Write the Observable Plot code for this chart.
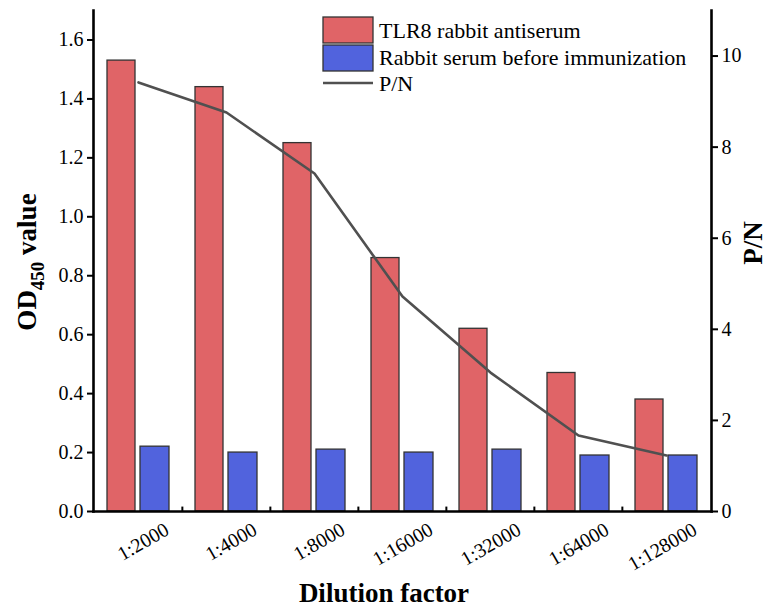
<!DOCTYPE html>
<html><head><meta charset="utf-8">
<script src="https://cdn.jsdelivr.net/npm/d3@7"></script>
<script src="https://cdn.jsdelivr.net/npm/@observablehq/plot@0.6"></script>
<style>body{margin:0;background:#fff}</style>
</head><body><div id="chart"></div>
<script>
const categories = ["1:2000","1:4000","1:8000","1:16000","1:32000","1:64000","1:128000"];
const tlr8 = [1.53,1.44,1.25,0.86,0.62,0.47,0.38];
const preImmune = [0.22,0.20,0.21,0.20,0.21,0.19,0.19];
const pn = [9.42,8.76,7.42,4.72,3.05,1.67,1.23];
const leftTicks = [0,0.2,0.4,0.6,0.8,1.0,1.2,1.4,1.6];
const rightTicks = [0,2,4,6,8,10];
const legendLabels = ["TLR8 rabbit antiserum","Rabbit serum before immunization","P/N"];

const yMax = 1.7, pnMax = 11;
const toLeft = v => v * yMax / pnMax;
const data = categories.map((c,i)=>({cat:c, a:tlr8[i], b:preImmune[i], pn:pn[i]}));
const red = "#e06467", blue = "#5163dd", lineC = "#505050";
const font = "'Liberation Serif','Times New Roman',serif";
const bw = (769 - 93 - 58) / categories.length;

const plot = Plot.plot({
  width: 769, height: 609,
  marginLeft: 93, marginRight: 58, marginTop: 10, marginBottom: 98,
  style: {fontFamily: font, fontSize: "20px", color: "#000", background: "#fff"},
  x: {domain: categories, padding: 0, axis: null},
  y: {domain: [0, yMax], axis: null},
  marks: [
    Plot.barY(data, {x: "cat", y: "a", fill: red, stroke: "#333", strokeWidth: 1.3, insetLeft: 13, insetRight: 47}),
    Plot.barY(data, {x: "cat", y: "b", fill: blue, stroke: "#333", strokeWidth: 1.3, insetLeft: 46, insetRight: 13}),
    Plot.lineY(data, {x: "cat", y: d => toLeft(d.pn), stroke: lineC, strokeWidth: 2.6}),
    Plot.frame({anchor: "left", stroke: "#000", strokeWidth: 2.6}),
    Plot.frame({anchor: "right", stroke: "#000", strokeWidth: 2.6}),
    Plot.frame({anchor: "bottom", stroke: "#000", strokeWidth: 2.6}),
    Plot.axisY(leftTicks, {anchor: "left", tickSize: 6, tickPadding: 4, strokeWidth: 2, tickFormat: d3.format(".1f"), label: null, fontSize: 20}),
    Plot.axisY(rightTicks.map(toLeft), {anchor: "right", tickSize: 6, tickPadding: 4, strokeWidth: 2, tickFormat: d => Math.round(d * pnMax / yMax), label: null, fontSize: 20}),
    Plot.ruleX(categories.slice(1), {x: d => d, y1: 0, y2: 0.015, dx: -bw / 2, stroke: "#000", strokeWidth: 2}),
    Plot.text(categories, {x: d => d, y: 0, dx: 32, dy: 22, rotate: -30, textAnchor: "end", lineAnchor: "bottom", fontSize: 20, fill: "#000"})
  ]
});
document.getElementById("chart").appendChild(plot);

const svg = d3.select(plot);
// axis titles
const t1 = svg.append("text").attr("transform","translate(36,262) rotate(-90)")
  .attr("text-anchor","middle").attr("font-family",font).attr("font-weight","bold").attr("font-size",27).attr("fill","#000");
t1.append("tspan").text("OD");
t1.append("tspan").attr("font-size",19).attr("dy",8).text("450");
t1.append("tspan").attr("dy",-8).text(" value");
svg.append("text").attr("x",384).attr("y",602).attr("text-anchor","middle")
  .attr("font-family",font).attr("font-weight","bold").attr("font-size",27).attr("fill","#000").text("Dilution factor");
svg.append("text").attr("transform","translate(762,243) rotate(-90)").attr("text-anchor","middle")
  .attr("font-family",font).attr("font-weight","bold").attr("font-size",27).attr("fill","#000").text("P/N");
// legend
const lg = svg.append("g").attr("font-family",font).attr("font-size",22).attr("fill","#000").attr("text-anchor","start");
lg.append("rect").attr("x",323).attr("y",17).attr("width",50).attr("height",26).attr("fill",red).attr("stroke","#333").attr("stroke-width",1.3);
lg.append("rect").attr("x",323).attr("y",45).attr("width",50).attr("height",26).attr("fill",blue).attr("stroke","#333").attr("stroke-width",1.3);
lg.append("line").attr("x1",323).attr("x2",373).attr("y1",83).attr("y2",83).attr("stroke",lineC).attr("stroke-width",2.6);
[38,65,91].forEach((y,i)=>lg.append("text").attr("x",379).attr("y",y).attr("text-anchor","start").text(legendLabels[i]));
</script></body></html>
